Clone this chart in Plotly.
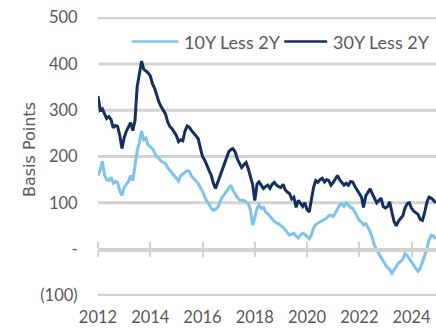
import pandas as pd
import plotly.graph_objects as go

# Month-end spread readings, Jan 2012 onward (basis points)
months = pd.date_range("2012-01-01", periods=156, freq="MS")

spread_10y_2y = [
    159, 170, 190, 160, 150, 148, 155, 142, 146, 144, 125, 116,
    133, 140, 146, 159, 148, 180, 212, 230, 255, 236, 240, 225,
    220, 217, 208, 200, 196, 190, 187, 185, 176, 170, 164, 157,
    153, 147, 158, 163, 166, 169, 168, 157, 152, 148, 142, 133,
    125, 113, 103, 97, 88, 84, 86, 90, 102, 112, 118, 125,
    132, 138, 127, 118, 112, 106, 105, 105, 102, 98, 84, 52,
    68, 88, 95, 88, 90, 80, 76, 70, 64, 60, 56, 55,
    50, 47, 42, 37, 30, 32, 34, 28, 24, 30, 34, 32,
    28, 22, 30, 45, 53, 56, 58, 60, 64, 67, 72, 73,
    70, 78, 86, 95, 98, 92, 100, 94, 90, 88, 80, 72,
    62, 58, 52, 55, 48, 38, 25, 8, -2, -10, -20, -26,
    -34, -40, -44, -52, -46, -38, -30, -27, -22, -10, -14, -20,
    -27, -35, -42, -48, -42, -30, -15, 0, 19, 30, 28, 22,
]

spread_30y_2y = [
    331, 300, 303, 290, 282, 286, 280, 262, 267, 265, 245, 217,
    241, 255, 265, 273, 256, 277, 350, 380, 406, 389, 385, 381,
    374, 357, 348, 332, 318, 308, 300, 292, 275, 265, 260, 252,
    245, 232, 236, 234, 255, 266, 263, 256, 250, 245, 239, 219,
    200, 192, 183, 170, 160, 142, 131, 145, 160, 170, 186, 200,
    210, 215, 217, 210, 195, 185, 176, 182, 187, 174, 155, 140,
    105, 140, 145, 138, 131, 135, 138, 131, 140, 144, 138, 135,
    133, 140, 128, 123, 120, 108, 112, 90, 105, 99, 92, 100,
    85, 80, 105, 133, 148, 144, 150, 153, 145, 150, 148, 138,
    144, 152, 159, 150, 145, 138, 142, 138, 146, 145, 135, 126,
    120, 112, 90, 115, 124, 130, 120, 110, 100, 105, 110, 92,
    89, 92, 102, 80, 60, 50, 60, 66, 72, 88, 98, 100,
    88, 82, 79, 75, 64, 62, 78, 100, 112, 110, 106, 100,
]

series_names = ["10Y Less 2Y", "30Y Less 2Y"]
series_colors = ["#7DC3EA", "#15305E"]

y_ticks = [-100, 0, 100, 200, 300, 400, 500]
y_tick_text = ["(100)", "-", "100", "200", "300", "400", "500"]

TEXT = "#595959"
GRID = "#D2D2D2"
FONT = "Lato"

fig = go.Figure()

# horizontal grid at every labelled level (the zero level is the axis below)
for v in y_ticks:
    if v != 0:
        fig.add_shape(type="line", xref="paper", x0=0, x1=1, yref="y", y0=v, y1=v,
                      line=dict(color=GRID, width=3), layer="below")

for name, vals, col in zip(series_names, [spread_10y_2y, spread_30y_2y], series_colors):
    fig.add_trace(go.Scatter(
        x=months, y=vals, mode="lines", name=name,
        line=dict(color=col, width=3), showlegend=False, cliponaxis=False,
    ))

# empty traces for two hairline subplots sitting on the zero level:
# their x axes draw the zero line and the tick marks crossing it
fig.add_trace(go.Scatter(x=[], y=[], xaxis="x2", yaxis="y2", showlegend=False))
fig.add_trace(go.Scatter(x=[], y=[], xaxis="x3", yaxis="y3", showlegend=False))

x_range = ["2012-01-01", "2024-12-08"]
zero_pos = (0 - y_ticks[0]) / (y_ticks[-1] - y_ticks[0])
eps = 0.0005

tick_axis = dict(
    range=x_range, type="date", tick0="2012-01-01", dtick="M24",
    showgrid=False, showticklabels=False, zeroline=False,
    showline=True, linecolor=GRID, linewidth=1.5,
    ticks="outside", tickcolor=GRID, tickwidth=1.5, ticklen=6,
)
hidden_y = dict(visible=False, range=[0, 1], showgrid=False, zeroline=False)

fig.update_layout(
    width=436, height=332,
    margin=dict(l=98, r=0, t=17, b=36),
    paper_bgcolor="white", plot_bgcolor="rgba(0,0,0,0)",
    font=dict(family=FONT, color=TEXT, size=16),
    xaxis=dict(
        range=x_range, type="date", tick0="2012-01-01", dtick="M24",
        tickformat="%Y", showgrid=False, zeroline=False, showline=False,
        ticks="outside", ticklen=6, tickcolor="rgba(0,0,0,0)",
        tickfont=dict(family=FONT, size=16.5, color=TEXT),
    ),
    xaxis2=dict(tick_axis, anchor="y2", side="bottom"),
    xaxis3=dict(tick_axis, anchor="y3", side="top"),
    yaxis2=dict(hidden_y, domain=[zero_pos, zero_pos + eps], anchor="x2"),
    yaxis3=dict(hidden_y, domain=[zero_pos - eps, zero_pos], anchor="x3"),
    yaxis=dict(
        range=[y_ticks[0] - 1.5, y_ticks[-1] + 1.5], tickvals=y_ticks,
        ticktext=y_tick_text,
        showgrid=False, zeroline=False,
        showline=False, ticks="outside", ticklen=16, tickcolor="rgba(0,0,0,0)",
        tickfont=dict(family=FONT, size=16.5, color=TEXT),
    ),
    showlegend=False,
)

# axis title
fig.add_annotation(
    text="Basis Points", textangle=-90, showarrow=False,
    xref="paper", yref="paper", x=0, y=0.523, xanchor="center", yanchor="middle",
    xshift=-69, font=dict(family="DejaVu Sans", size=16, color=TEXT),
)

# legend: line swatch followed by its label, laid out along the top
legend_y = 0.912
legend_items = [(0.10, 0.238), (0.551, 0.678)]
for (x0, x1), name, col in zip(legend_items, series_names, series_colors):
    fig.add_shape(type="line", xref="paper", yref="paper",
                  x0=x0, x1=x1, y0=legend_y, y1=legend_y,
                  line=dict(color=col, width=2.6))
    fig.add_annotation(text=name, showarrow=False, xref="paper", yref="paper",
                       x=x1 + 0.01, y=legend_y, xanchor="left", yanchor="middle",
                       font=dict(family=FONT, size=18, color=TEXT))

fig.write_html("out.html")
